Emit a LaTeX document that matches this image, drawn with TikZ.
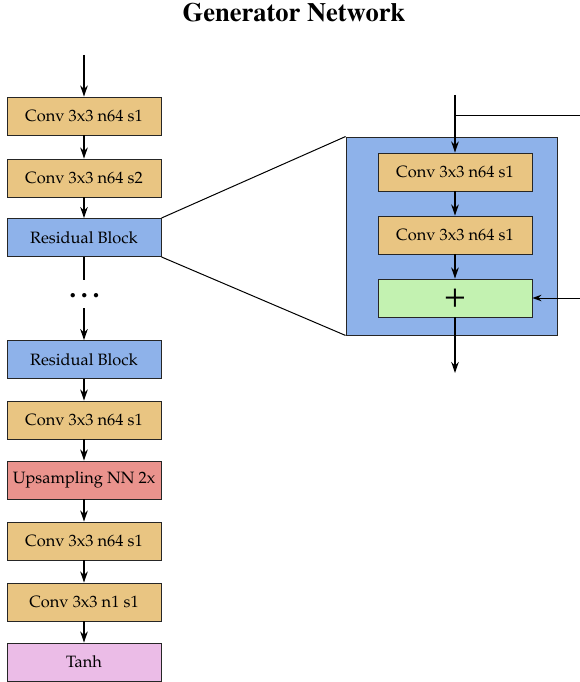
\documentclass[tikz,border=0pt]{standalone}
\usepackage[T1]{fontenc}
\usepackage{mathpazo}
\usetikzlibrary{arrows.meta}
\definecolor{convc}{HTML}{E9C582}
\definecolor{resc}{HTML}{8EB2EA}
\definecolor{upc}{HTML}{EA938D}
\definecolor{tanhc}{HTML}{EBBCE7}
\definecolor{addc}{HTML}{C3F2B1}
\begin{document}
\begin{tikzpicture}[x=1pt,y=-1pt,
  font=\fontsize{16.4}{18}\selectfont,
  box/.style={draw=black!85, line width=0.9pt, minimum width=154pt, minimum height=38pt, inner sep=0pt},
  conv/.style={box, fill=convc},
  res/.style={box, fill=resc},
  upbox/.style={box, fill=upc},
  tanhbox/.style={box, fill=tanhc},
  addbox/.style={box, fill=addc},
  arr/.style={-{Stealth[length=11pt,width=7.5pt,inset=3.5pt]}, line width=1.3pt},
  thinarr/.style={-{Stealth[length=9pt,width=6.5pt,inset=3pt]}, line width=1pt},
  ln/.style={line width=1.3pt},
  thinln/.style={line width=1pt}]
\useasboundingbox (0,0) rectangle (580,682);
\node[font=\fontfamily{ptm}\fontsize{26.5}{28}\selectfont\bfseries] (title) at (294,13) {Generator Network};
% left column
\node[conv] (c1) at (84,116) {Conv 3x3 n64 s1};
\node[conv] (c2) at (84,178) {Conv 3x3 n64 s2};
\node[res] (r1) at (84,237.5) {Residual Block};
\node[font=\fontsize{28}{28}\selectfont\bfseries, anchor=base] (dots) at (84.5,297.5) {.\,.\,.};
\node[res] (r2) at (84,359.5) {Residual Block};
\node[conv] (c3) at (84,420) {Conv 3x3 n64 s1};
\node[upbox] (up) at (84,480) {Upsampling NN 2x};
\node[conv] (c4) at (84,541) {Conv 3x3 n64 s1};
\node[conv] (c5) at (84,602) {Conv 3x3 n1 s1};
\node[tanhbox] (tanh) at (84,662) {Tanh};
\coordinate (in) at (84,55);
\coordinate (d1) at (84,280);
\coordinate (d2) at (84,308);
\draw[arr] (in) -- (c1);
\draw[arr] (c1) -- (c2);
\draw[arr] (c2) -- (r1);
\draw[ln] (r1) -- (d1);
\draw[arr] (d2) -- (r2);
\draw[arr] (r2) -- (c3);
\draw[arr] (c3) -- (up);
\draw[arr] (up) -- (c4);
\draw[arr] (c4) -- (c5);
\draw[arr] (c5) -- (tanh);
% residual detail
\node[draw=black!85, line width=0.9pt, fill=resc, minimum width=211pt, minimum height=198pt, inner sep=0pt] (big) at (451.5,236) {};
\node[conv] (ic1) at (455,172) {Conv 3x3 n64 s1};
\node[conv] (ic2) at (455,235) {Conv 3x3 n64 s1};
\node[addbox, font=\fontsize{36}{36}\selectfont] (plus) at (455,298) {+};
\coordinate (rin) at (455,95);
\coordinate (sk) at (455,116);
\coordinate (skr) at (580,116);
\coordinate (skr2) at (580,298);
\coordinate (out) at (455,373);
\draw[arr] (rin) -- (ic1);
\draw[thinln] (sk) -- (skr);
\draw[thinarr] (skr2) -- (plus);
\draw[arr] (ic1) -- (ic2);
\draw[arr] (ic2) -- (plus);
\draw[arr] (plus) -- (out);
\draw[thinln] (r1.north east) -- (big.north west);
\draw[thinln] (r1.south east) -- (big.south west);
\end{tikzpicture}
\end{document}
